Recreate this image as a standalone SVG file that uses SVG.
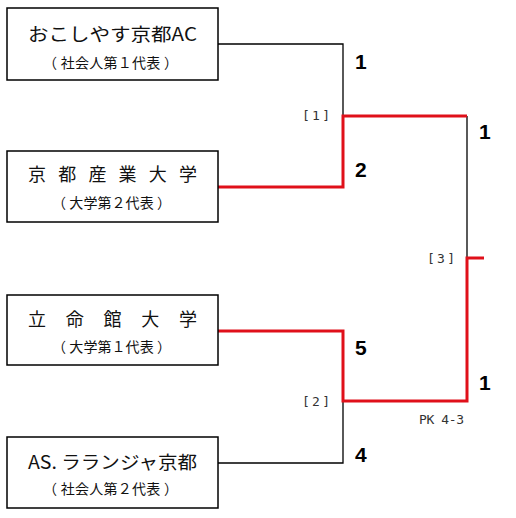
<svg xmlns="http://www.w3.org/2000/svg" width="516" height="518" viewBox="0 0 516 518">
<style>
.box{fill:#fff;stroke:#000;stroke-width:1.5}
.t{font-family:"Noto Sans CJK JP","Noto Sans",sans-serif;font-size:18px;fill:#111;text-anchor:start}
.s{font-family:"Noto Sans CJK JP","Noto Sans",sans-serif;font-size:14px;fill:#111}
.k{stroke:#000;stroke-width:1.3;fill:none}
.r{stroke:#e0101a;stroke-width:3;fill:none}
.n{font-family:"Liberation Sans",Arial,sans-serif;font-weight:bold;font-size:21px;fill:#000}
.b{font-family:"DejaVu Sans Mono","Liberation Mono",monospace;font-size:13px;fill:#333}
</style>
<rect width="516" height="518" fill="#fff"/>
<g id="connectors">
<polyline class="k" points="218,44 343,44 343,116"/>
<polyline class="k" points="218,463 343,463 343,401"/>
<polyline class="k" points="467,116 467,258"/>
<polyline class="r" points="218,187 343,187 343,116 467,116"/>
<polyline class="r" points="218,331 343,331 343,401 467,401 467,258 484,258"/>
</g>
<g id="team1">
<rect class="box" x="7" y="8" width="211" height="72"/>
<text class="t" x="28" y="41" textLength="169" lengthAdjust="spacingAndGlyphs">おこしやす京都AC</text>
<text class="s" x="43" y="68" textLength="135" lengthAdjust="spacing">（ 社会人第１代表 ）</text>
</g>
<g id="team2">
<rect class="box" x="7" y="151" width="211" height="71"/>
<text class="t" x="28" y="181" textLength="169" lengthAdjust="spacing">京 都 産 業 大 学</text>
<text class="s" x="52" y="208" textLength="119" lengthAdjust="spacing">（ 大学第２代表 ）</text>
</g>
<g id="team3">
<rect class="box" x="7" y="295" width="211" height="70"/>
<text class="t" x="28" y="326" textLength="169" lengthAdjust="spacing">立 命 館 大 学</text>
<text class="s" x="52" y="352" textLength="119" lengthAdjust="spacing">（ 大学第１代表 ）</text>
</g>
<g id="team4">
<rect class="box" x="7" y="437" width="211" height="71"/>
<text class="t" x="28" y="469" textLength="169" lengthAdjust="spacingAndGlyphs">AS. ラランジャ京都</text>
<text class="s" x="43" y="494" textLength="135" lengthAdjust="spacing">（ 社会人第２代表 ）</text>
</g>
<g id="labels">
<text class="n" x="355" y="69">1</text>
<text class="n" x="355" y="177">2</text>
<text class="n" x="355" y="355">5</text>
<text class="n" x="355" y="462">4</text>
<text class="n" x="479" y="139">1</text>
<text class="n" x="479" y="390">1</text>
<text class="b" x="302" y="120" textLength="28">[1]</text>
<text class="b" x="302" y="406" textLength="28">[2]</text>
<text class="b" x="427" y="263" textLength="28">[3]</text>
<text class="b" x="419" y="424" textLength="45">PK 4-3</text>
</g>
</svg>
